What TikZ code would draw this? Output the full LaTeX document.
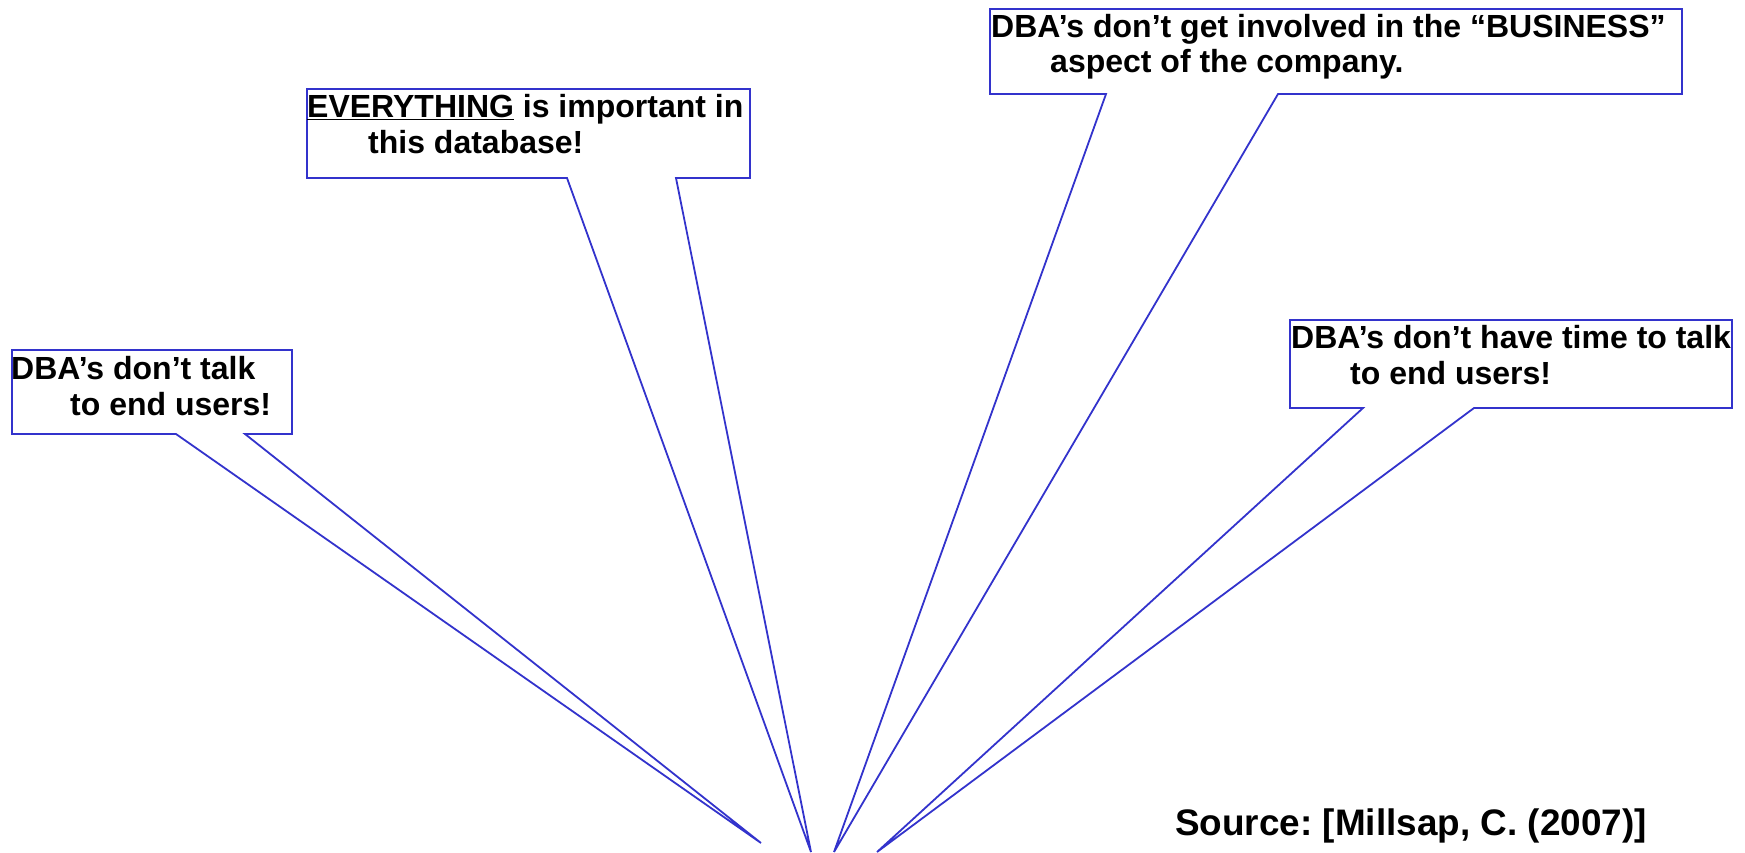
\documentclass[tikz,border=0pt]{standalone}
\usepackage{fontspec}
\setmainfont{Liberation Sans}
\frenchspacing
\definecolor{callblue}{HTML}{3333CC}
\begin{document}
\begin{tikzpicture}[x=1pt,y=-1pt,
  calltext/.style={anchor=base west,inner sep=0pt,font=\fontsize{32}{36}\selectfont\bfseries},
  srctext/.style={anchor=base west,inner sep=0pt,font=\fontsize{36.9}{44}\selectfont\bfseries},
  outline/.style={draw=callblue,line width=1.8pt,line join=miter,fill=white}]
\useasboundingbox (0,0) rectangle (1745,852);

% box corners
\coordinate (b1nw) at (12,350);  \coordinate (b1se) at (292,434);
\coordinate (b1l) at (176,434);  \coordinate (b1r) at (245,434);
\coordinate (tip1) at (761,843);

\coordinate (b2nw) at (307,89);  \coordinate (b2se) at (750,178);
\coordinate (b2l) at (567,178);  \coordinate (b2r) at (676,178);
\coordinate (tip2) at (811,852);

\coordinate (b3nw) at (990,9);   \coordinate (b3se) at (1682,94);
\coordinate (b3l) at (1106,94);  \coordinate (b3r) at (1278,94);
\coordinate (tip3) at (834,852);

\coordinate (b4nw) at (1290,320); \coordinate (b4se) at (1732,408);
\coordinate (b4l) at (1363,408);  \coordinate (b4r) at (1474,408);
\coordinate (tip4) at (877,852);

% outlines
\foreach \b/\t in {b1/tip1,b2/tip2,b3/tip3,b4/tip4}{
  \draw[outline] (\b nw) -- (\b nw -| \b se) -- (\b se) -- (\b r) -- (\t) -- (\b l) -- (\b nw |- \b se) -- cycle;
}

% texts
\node[calltext] (t1a) at (11,379) {DBA’s don’t talk};
\node[calltext] (t1b) at (70,415) {to end users!};

\node[calltext] (t2a) at (307,117) {\underline{EVERYTHING} is important in};
\node[calltext] (t2b) at (368,153) {this database!};

\node[calltext] (t3a) at (991,37) {DBA’s don’t get involved in the “BUSINESS”};
\node[calltext] (t3b) at (1050,72) {aspect of the company.};

\node[calltext] (t4a) at (1291,348) {DBA’s don’t have time to talk};
\node[calltext] (t4b) at (1350,384) {to end users!};

\node[srctext] (src) at (1175,835) {Source: [Millsap, C. (2007)]};
\end{tikzpicture}
\end{document}
